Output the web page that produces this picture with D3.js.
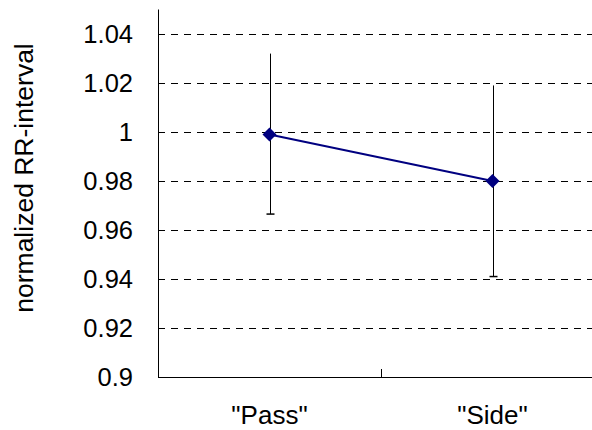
<!DOCTYPE html>
<html><head><meta charset="utf-8">
<script src="https://cdn.jsdelivr.net/npm/d3@7"></script>
<style>body{margin:0;background:#fff}svg{display:block}text{font-family:"Liberation Sans",Arial,sans-serif;fill:#000}</style>
</head><body><svg id="c" width="592" height="430"></svg>
<script>
const categories = ["\"Pass\"", "\"Side\""];
const means = [0.999, 0.980];
const upper = [1.032, 1.019];
const lower = [0.9665, 0.941];
const yTicks = [0.9, 0.92, 0.94, 0.96, 0.98, 1, 1.02, 1.04];
const yLabel = "normalized RR-interval";

const svg = d3.select("#c");
const L = 158, R = 604, T = 9.5, B = 377;
const x = d3.scaleBand().domain(categories).range([L, R]);
const y = d3.scaleLinear().domain([0.9, 1.05]).range([B, T]);
const cx = d => x(d) + x.bandwidth() / 2;

// gridlines
svg.append("g").selectAll("line").data(yTicks.filter(t => t > 0.9)).join("line")
  .attr("x1", L).attr("x2", R)
  .attr("y1", d => Math.round(y(d)) + 0.5).attr("y2", d => Math.round(y(d)) + 0.5)
  .attr("stroke", "#000").attr("stroke-width", 1).attr("stroke-dasharray", "7,6");

// y axis
const yAxis = svg.append("g").attr("transform", `translate(${L + 0.5},0)`)
  .call(d3.axisRight(y).tickValues(yTicks).tickSize(3).tickFormat(""));
yAxis.select(".domain").attr("d", `M0,${T}V${B}`).attr("stroke", "#000");
yAxis.selectAll(".tick line").attr("stroke", "#000");
svg.append("g").selectAll("text").data(yTicks).join("text")
  .attr("x", 133).attr("y", d => y(d)).attr("dy", "0.36em")
  .attr("text-anchor", "end").attr("font-size", 25.5)
  .text(d => d3.format("~g")(d));

// x axis
svg.append("line").attr("x1", L).attr("x2", R).attr("y1", B + 0.5).attr("y2", B + 0.5)
  .attr("stroke", "#000");
svg.append("line").attr("x1", x(categories[1]) + 0.5).attr("x2", x(categories[1]) + 0.5)
  .attr("y1", B).attr("y2", B - 8).attr("stroke", "#000");
svg.append("g").selectAll("text").data(categories).join("text")
  .attr("x", d => cx(d)).attr("y", 424).attr("text-anchor", "middle")
  .attr("font-size", 26).text(d => d);

// y label
svg.append("text").attr("transform", "translate(33,178) rotate(-90)")
  .attr("text-anchor", "middle").attr("font-size", 26.5).text(yLabel);

// error bars
const eb = svg.append("g");
categories.forEach((c, i) => {
  const px = Math.round(cx(c)) + 0.5;
  eb.append("line").attr("x1", px).attr("x2", px).attr("y1", y(upper[i])).attr("y2", y(lower[i]))
    .attr("stroke", "#000");
  eb.append("line").attr("x1", px - 4).attr("x2", px + 4).attr("y1", y(lower[i])).attr("y2", y(lower[i]))
    .attr("stroke", "#000").attr("stroke-width", 1.5);
});

// line
const pts = categories.map((c, i) => [cx(c), y(means[i])]);
svg.append("path").attr("d", d3.line()(pts)).attr("fill", "none")
  .attr("stroke", "#000080").attr("stroke-width", 2);
svg.append("g").selectAll("path").data(pts).join("path")
  .attr("transform", d => `translate(${d[0]},${d[1]})`)
  .attr("d", "M0,-7L7,0L0,7L-7,0Z").attr("fill", "#000080");
</script></body></html>
